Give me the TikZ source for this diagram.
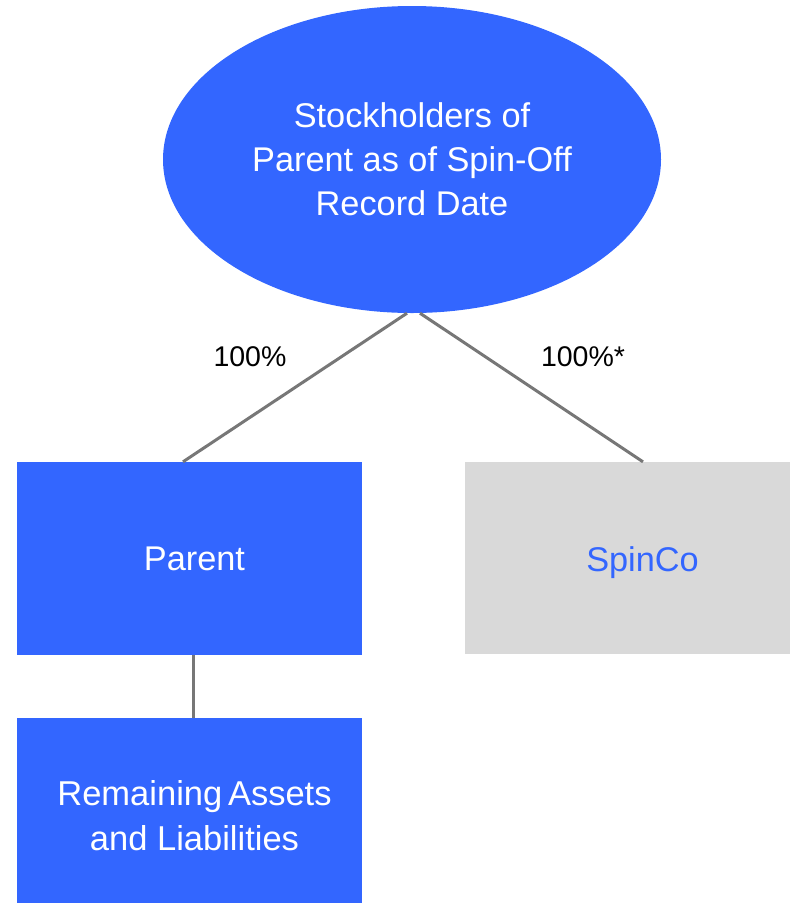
\documentclass[tikz,border=0pt]{standalone}
\usepackage{fontspec}
\setmainfont{Liberation Sans}
\usetikzlibrary{shapes.geometric,calc}
\definecolor{bluefill}{HTML}{3366FF}
\definecolor{grayfill}{HTML}{D9D9D9}
\definecolor{linegray}{HTML}{777777}
\tikzset{
  bluebox/.style={rectangle,fill=bluefill,draw=none,text=white,inner sep=0pt,align=center,font=\fontsize{34.3}{44}\selectfont},
  graybox/.style={rectangle,fill=grayfill,draw=none,text=bluefill,inner sep=0pt,align=center,font=\fontsize{34.3}{44}\selectfont},
  conn/.style={draw=linegray,line width=3pt},
  pct/.style={font=\fontsize{28.5}{34}\selectfont,text=black,inner sep=0pt}
}
\begin{document}
\begin{tikzpicture}[x=1pt,y=-1pt]
\useasboundingbox (0,0) rectangle (790,903);
\node[ellipse,fill=bluefill,text=white,inner sep=0pt,minimum width=498pt,minimum height=307pt,align=center,font=\fontsize{34.3}{44}\selectfont] (holders) at (412,159.5) {Stockholders of\\Parent as of Spin-Off\\Record Date};
\node[bluebox,minimum width=345pt,minimum height=193pt] (parent) at (189.5,558.5) {\hspace*{10pt}Parent};
\node[graybox,minimum width=325pt,minimum height=192pt] (spinco) at (627.5,558) {\hspace*{30pt}\rule{0pt}{34pt}SpinCo};
\node[bluebox,minimum width=345pt,minimum height=185pt,font=\fontsize{34.5}{45}\selectfont] (remain) at (189.5,810.5) {\hspace*{10pt}\rule{0pt}{36pt}Remaining\,Assets\\\hspace*{10pt}and Liabilities};
\coordinate (pl) at ($(parent.north)+(-6.5,0)$);
\coordinate (sr) at ($(spinco.north)+(15.5,0)$);
\coordinate (hl) at ($(holders.south)+(-5,0)$);
\coordinate (hr) at ($(holders.south)+(8,0)$);
\coordinate (pb) at ($(parent.south)+(3.5,0)$);
\coordinate (rt) at ($(remain.north)+(3.5,0)$);
\draw[conn] (hl) -- (pl);
\draw[conn] (hr) -- (sr);
\draw[conn] (pb) -- (rt);
\node[pct] (lblL) at (250,357) {100\%};
\node[pct] (lblR) at (583,357) {100\%*};
\end{tikzpicture}
\end{document}
